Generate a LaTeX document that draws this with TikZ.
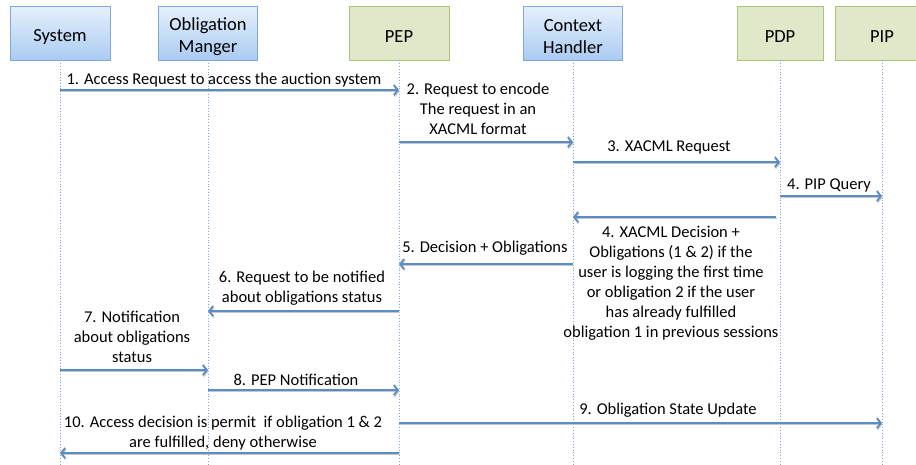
\documentclass[tikz,border=0pt]{standalone}
\usepackage{fontspec}
\setmainfont{Carlito}
\usetikzlibrary{arrows.meta,calc}

\definecolor{boxblueT}{HTML}{E6F0FC}
\definecolor{boxblueB}{HTML}{AACBF2}
\definecolor{boxblueD}{HTML}{80A9DA}
\definecolor{boxgreen}{HTML}{DFE8C9}
\definecolor{boxgreenD}{HTML}{A9C474}
\definecolor{msgcol}{HTML}{5A8CC7}
\definecolor{lifecol}{HTML}{7EA7D9}

\tikzset{
  actortext/.style={align=center, inner sep=0pt, yshift=-3.5pt, font=\fontsize{18.5}{22}\selectfont},
  actorblue/.style={draw=boxblueD, line width=0.9pt, top color=boxblueT, bottom color=boxblueB,
    minimum height=54pt, inner sep=0pt},
  actorgreen/.style={draw=boxgreenD, line width=0.9pt, fill=boxgreen,
    minimum height=54pt, inner sep=0pt},
  lifeline/.style={draw=lifecol, line width=0.8pt, dotted},
  msgarrow/.style={draw=msgcol, line width=1.8pt, -{Straight Barb[length=4pt,width=10pt]},
    preaction={draw=black!22, line width=1.8pt, -{Straight Barb[length=4pt,width=10pt]},
      transform canvas={shift={(0.6pt,-1.4pt)}}}},
  msgtext/.style={align=center, inner sep=0pt, font=\fontsize{16.5}{20}\selectfont}
}

\begin{document}
\begin{tikzpicture}[x=1pt,y=-1pt]
\useasboundingbox (0,0) rectangle (916,464);

% participants
\node[actorblue, minimum width=100pt, label={[actortext]center:System}] (sys) at (60,33) {};
\node[actorblue, minimum width=99pt, label={[actortext]center:{Obligation\\Manger}}] (om) at (208,33) {};
\node[actorgreen, minimum width=100pt, label={[actortext]center:PEP}] (pep) at (399,33) {};
\node[actorblue, minimum width=99pt, label={[actortext]center:{Context\\Handler}}] (ch) at (573,33) {};
\node[actorgreen, minimum width=86pt, label={[actortext]center:PDP}] (pdp) at (780,33) {};
\node[actorgreen, minimum width=94pt, label={[actortext]center:PIP}] (pip) at (882,33) {};

% lifelines
\foreach \p in {sys,om,pep,ch,pdp,pip}{
  \coordinate (\p-end) at (\p.south |- 0,464);
  \draw[lifeline] (\p.south) -- (\p-end);
}

% messages
\draw[msgarrow] (sys |- 0,90) -- (pep |- 0,90);
\node[msgtext] (l1) at (224,80) {1. Access Request to access the auction system};

\draw[msgarrow] (pep |- 0,142) -- (ch |- 0,142);
\node[msgtext] (l2) at (478,109) {2. Request to encode\\The request in an\\XACML format};

\draw[msgarrow] (ch |- 0,162) -- (pdp |- 0,162);
\node[msgtext] (l3) at (669,147) {3. XACML Request};

\draw[msgarrow] (pdp |- 0,196) -- (pip |- 0,196);
\node[msgtext] (l4) at (829,185) {4. PIP Query};

\coordinate (d4) at (776,217);
\draw[msgarrow] (d4) -- (ch |- d4);
\node[msgtext] (l4b) at (671,283) {4. XACML Decision +\\Obligations (1 \& 2) if the\\user is logging the first time\\or obligation 2 if the user\\has already fulfilled\\obligation 1 in previous sessions};

\draw[msgarrow] (ch |- 0,264) -- (pep |- 0,264);
\node[msgtext] (l5) at (485,248) {5. Decision + Obligations};

\draw[msgarrow] (pep |- 0,311) -- (om |- 0,311);
\node[msgtext] (l6) at (302,288) {6. Request to be notified\\about obligations status};

\draw[msgarrow] (sys |- 0,370) -- (om |- 0,370);
\node[msgtext] (l7) at (132,337) {7. Notification\\about obligations\\status};

\draw[msgarrow] (om |- 0,390) -- (pep |- 0,390);
\node[msgtext] (l8) at (296,380) {8. PEP Notification};

\draw[msgarrow] (pep |- 0,423) -- (pip |- 0,423);
\node[msgtext] (l9) at (668,410) {9. Obligation State Update};

\draw[msgarrow] (pep |- 0,453) -- (sys |- 0,453);
\node[msgtext] (l10) at (223,433) {10. Access decision is permit\ \ if obligation 1 \& 2\\are fulfilled, deny otherwise};
\end{tikzpicture}
\end{document}
